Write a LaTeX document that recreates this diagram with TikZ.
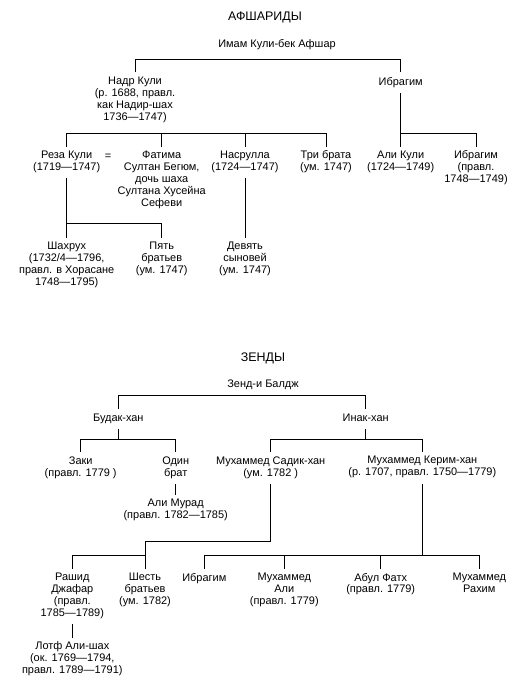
\documentclass[tikz,border=0pt]{standalone}
\usepackage{fontspec}
\setmainfont{Liberation Sans}
\usepackage{tikz}
\tikzstyle{title} = [anchor=base, inner sep=0pt, font=\fontsize{12.5}{14}\selectfont]
\tikzstyle{person} = [anchor=north, align=center, inner xsep=0pt, inner ysep=4bp, font=\fontsize{11}{12}\selectfont, execute at begin node=\strut, execute at end node=\strut]
\tikzstyle{line} = [line width=0.9bp]

\begin{document}
\begin{tikzpicture}[x=1bp, y=-1bp]
    \useasboundingbox (0,0) rectangle (528,695);

    % Afshars
    \node [title] at (265,20.5) (afshar) {АФШАРИДЫ};
    \node [person] at (277,34.5) (imam) {Имам Кули-бек Афшар};
    \node [person] at (135,72.5) (nadr) {Надр Кули\\(р. 1688, правл.\\как Надир-шах\\1736—1747)};
    \node [person] at (400.7,72.5) (ibr) {Ибрагим};
    \node [person] at (66.7,146.5) (reza) {Реза Кули\\(1719—1747)};
    \node [person] at (108,146.5) (eq) {=};
    \node [person] at (161.7,146.5) (fatima) {Фатима\\Султан Бегюм,\\дочь шаха\\Султана Хусейна\\Сефеви};
    \node [person] at (245,146.5) (nasr) {Насрулла\\(1724—1747)};
    \node [person] at (326,146.5) (tri) {Три брата\\(ум. 1747)};
    \node [person] at (400.7,146.5) (alik) {Али Кули\\(1724—1749)};
    \node [person] at (476,146.5) (ibr2) {Ибрагим\\(правл.\\1748—1749)};
    \node [person] at (66.7,238.2) (shah) {Шахрух\\(1732/4—1796,\\правл. в Хорасане\\1748—1795)};
    \node [person] at (161.7,238.2) (pyat) {Пять\\братьев\\(ум. 1747)};
    \node [person] at (245,238.2) (devyat) {Девять\\сыновей\\(ум. 1747)};

    \draw [line] (nadr.north) -- ++(0,-13.5) -| (ibr.north);
    \draw [line] (reza.north) -- ++(0,-13) -| (tri.north);
    \draw [line] (fatima.north) -- ++(0,-13);
    \draw [line] (nasr.north) -- ++(0,-13);
    \draw [line] (ibr.south) -- (alik.north);
    \draw [line] (alik.north) -- ++(0,-13) -| (ibr2.north);
    \draw [line] (reza.south) -- (shah.north);
    \draw [line] (shah.north) -- ++(0,-15) -| (pyat.north);
    \draw [line] (nasr.south) -- (devyat.north);

    % Zands
    \node [title] at (263,361) (zand) {ЗЕНДЫ};
    \node [person] at (263,374.8) (zend) {Зенд-и Балдж};
    \node [person] at (118.3,408.8) (budak) {Будак-хан};
    \node [person] at (365.7,408.8) (inak) {Инак-хан};
    \node [person] at (80.7,452.2) (zaki) {Заки\\(правл. 1779 )};
    \node [person] at (175.7,452.2) (odin) {Один\\брат};
    \node [person] at (270.7,452.2) (sadik) {Мухаммед Садик-хан\\(ум. 1782 )};
    \node [person] at (422.3,452.2) (kerim) {Мухаммед Керим-хан\\(р. 1707, правл. 1750—1779)};
    \node [person] at (175.7,494.8) (murad) {Али Мурад\\(правл. 1782—1785)};
    \node [person] at (72.3,568.8) (rashid) {Рашид\\Джафар\\(правл.\\1785—1789)};
    \node [person] at (145,568.8) (shest) {Шесть\\братьев\\(ум. 1782)};
    \node [person] at (204.3,568.8) (ibr3) {Ибрагим};
    \node [person] at (284.3,568.8) (mali) {Мухаммед\\Али\\(правл. 1779)};
    \node [person] at (380.7,568.8) (abul) {Абул Фатх\\(правл. 1779)};
    \node [person] at (479.3,568.8) (rahim) {Мухаммед\\Рахим};
    \node [person] at (72.3,637.5) (lotf) {Лотф Али-шах\\(ок. 1769—1794,\\правл. 1789—1791)};

    \draw [line] (budak.north) -- ++(0,-13.5) -| (inak.north);
    \draw [line] (zaki.north) -- ++(0,-13) -| (odin.north);
    \draw [line] (budak.south) -- ([yshift=13bp]budak.south |- zaki.north);
    \draw [line] (sadik.north) -- ++(0,-13) -| (kerim.north);
    \draw [line] (inak.south) -- ([yshift=13bp]inak.south |- sadik.north);
    \draw [line] (odin.south) -- (murad.north);
    \draw [line] (sadik.south) |- ([yshift=27bp]shest.north) -- (shest.north);
    \draw [line] (rashid.north) -- ++(0,-13) -| (shest.north);
    \draw [line] (ibr3.north) -- ++(0,-13) -| (rahim.north);
    \draw [line] (mali.north) -- ++(0,-13);
    \draw [line] (abul.north) -- ++(0,-13);
    \draw [line] (kerim.south) -- ([yshift=13bp]kerim.south |- ibr3.north);
    \draw [line] (rashid.south) -- (lotf.north);
\end{tikzpicture}
\end{document}
